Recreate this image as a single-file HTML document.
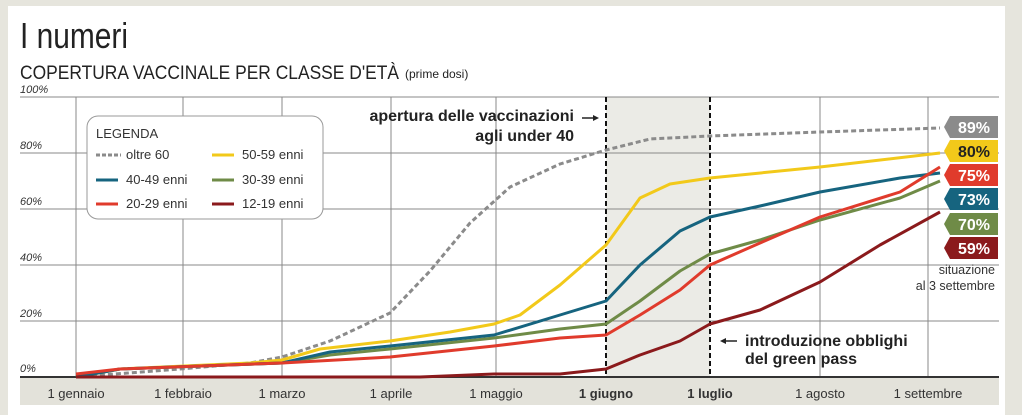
<!DOCTYPE html>
<html><head><meta charset="utf-8"><style>
html,body{margin:0;padding:0;width:1022px;height:415px;overflow:hidden;background:#e6e5dd}
svg{display:block}
text{font-family:"Liberation Sans",sans-serif}
</style></head><body>
<svg width="1022" height="415" viewBox="0 0 1022 415">
<rect x="0" y="0" width="1022" height="415" fill="#e6e5dd"/>
<rect x="8" y="6" width="997" height="409" fill="#fff"/>
<text x="20" y="48" font-size="36" fill="#222" textLength="108" lengthAdjust="spacingAndGlyphs">I numeri</text>
<text x="20" y="79" font-size="19" fill="#222" textLength="379" lengthAdjust="spacingAndGlyphs">COPERTURA VACCINALE PER CLASSE D'ETÀ</text>
<text x="405" y="78" font-size="12" fill="#222">(prime dosi)</text>
<!-- shaded region -->
<rect x="606" y="97" width="104" height="280" fill="#ebebe6"/>
<!-- grid -->
<g stroke="#888" stroke-width="1">
<line x1="20" y1="97" x2="999" y2="97"/>
<line x1="20" y1="153" x2="999" y2="153"/>
<line x1="20" y1="209" x2="999" y2="209"/>
<line x1="20" y1="265" x2="999" y2="265"/>
<line x1="20" y1="321" x2="999" y2="321"/>
<line x1="76" y1="97" x2="76" y2="377"/>
<line x1="183" y1="97" x2="183" y2="377"/>
<line x1="282" y1="97" x2="282" y2="377"/>
<line x1="391" y1="97" x2="391" y2="377"/>
<line x1="496" y1="97" x2="496" y2="377"/>
<line x1="820" y1="97" x2="820" y2="377"/>
<line x1="928" y1="97" x2="928" y2="377"/>
</g>
<g font-size="11" font-style="italic" fill="#333">
<text x="20" y="93">100%</text>
<text x="20" y="149">80%</text>
<text x="20" y="205">60%</text>
<text x="20" y="261">40%</text>
<text x="20" y="317">20%</text>
<text x="20" y="372">0%</text>
</g>
<!-- axis band -->
<rect x="20" y="377" width="979" height="28" fill="#e3e2da"/>
<line x1="20" y1="377" x2="999" y2="377" stroke="#333" stroke-width="2"/>
<g font-size="13" fill="#333" text-anchor="middle">
<text x="76" y="398">1 gennaio</text>
<text x="183" y="398">1 febbraio</text>
<text x="282" y="398">1 marzo</text>
<text x="391" y="398">1 aprile</text>
<text x="496" y="398">1 maggio</text>
<text x="606" y="398" font-weight="bold">1 giugno</text>
<text x="710" y="398" font-weight="bold">1 luglio</text>
<text x="820" y="398">1 agosto</text>
<text x="928" y="398">1 settembre</text>
</g>
<!-- dashed verticals -->
<g stroke="#111" stroke-width="2" stroke-dasharray="5,3">
<line x1="606" y1="97" x2="606" y2="377"/>
<line x1="710" y1="97" x2="710" y2="377"/>
</g>
<!-- series -->
<g fill="none" stroke-width="3" stroke-linejoin="round">
<polyline stroke="#8b8b8b" stroke-dasharray="5,3" points="76,377 180,369 250,363 282,357 330,341 390,313 430,271 470,223 510,187 560,164 606,150 650,139 710,136 820,132 940,128"/>
<polyline stroke="#f2c91a" points="76,377 120,369 250,363 282,360 320,349 390,341 450,332 494,324 520,315 560,285 606,245 640,198 670,184 710,178 820,167 940,153"/>
<polyline stroke="#6f8b47" points="76,377 120,369 282,363 330,355 390,349 494,338 560,329 606,324 640,301 680,271 710,254 760,240 820,220 900,198 940,181"/>
<polyline stroke="#16647f" points="76,377 120,369 282,363 330,352 390,346 494,335 560,315 606,301 640,265 680,231 710,217 760,206 820,192 900,178 940,173"/>
<polyline stroke="#e03b2c" points="76,374 120,369 282,363 390,357 494,346 560,338 606,335 640,315 680,290 710,265 760,243 820,217 900,192 940,167"/>
<polyline stroke="#8b1a1c" points="76,377 420,377 494,374 560,374 606,369 640,355 680,341 710,324 760,310 820,282 880,245 940,212"/>
</g>
<!-- legend -->
<rect x="87" y="116" width="236" height="103" rx="11" fill="#fff" stroke="#999" stroke-width="1"/>
<g font-size="13" fill="#333">
<text x="96" y="138">LEGENDA</text>
<text x="126" y="159">oltre 60</text>
<text x="126" y="184">40-49 enni</text>
<text x="126" y="208">20-29 enni</text>
<text x="242" y="159">50-59 enni</text>
<text x="242" y="184">30-39 enni</text>
<text x="242" y="208">12-19 enni</text>
</g>
<g stroke-width="3">
<line x1="96" y1="155" x2="121" y2="155" stroke="#8b8b8b" stroke-dasharray="4,2"/>
<line x1="96" y1="180" x2="118" y2="180" stroke="#16647f"/>
<line x1="96" y1="204" x2="118" y2="204" stroke="#e03b2c"/>
<line x1="212" y1="155" x2="234" y2="155" stroke="#f2c91a"/>
<line x1="212" y1="180" x2="234" y2="180" stroke="#6f8b47"/>
<line x1="212" y1="204" x2="234" y2="204" stroke="#8b1a1c"/>
</g>
<!-- annotations -->
<g font-size="16" font-weight="bold" fill="#222" text-anchor="end">
<text x="574" y="121">apertura delle vaccinazioni</text>
<text x="574" y="141">agli under 40</text>
</g>
<line x1="582" y1="118" x2="596" y2="118" stroke="#222" stroke-width="1.5"/>
<polygon points="599,118 593,115 593,121" fill="#222"/>
<g font-size="16" font-weight="bold" fill="#222">
<text x="745" y="346">introduzione obblighi</text>
<text x="745" y="364">del green pass</text>
</g>
<line x1="723" y1="341" x2="737" y2="341" stroke="#222" stroke-width="1.5"/>
<polygon points="720,341 726,338 726,344" fill="#222"/>
<!-- tags -->
<g font-size="16" font-weight="bold" text-anchor="middle">
<polygon points="944,127 950,116 998,116 998,138 950,138" fill="#8b8b8b"/><text x="974" y="133" fill="#fff">89%</text>
<polygon points="944,151 950,140 998,140 998,162 950,162" fill="#f2c91a"/><text x="974" y="157" fill="#222">80%</text>
<polygon points="944,175 950,164 998,164 998,186 950,186" fill="#e03b2c"/><text x="974" y="181" fill="#fff">75%</text>
<polygon points="944,199 950,188 998,188 998,210 950,210" fill="#16647f"/><text x="974" y="205" fill="#fff">73%</text>
<polygon points="944,224 950,213 998,213 998,235 950,235" fill="#6f8b47"/><text x="974" y="230" fill="#fff">70%</text>
<polygon points="944,248 950,237 998,237 998,259 950,259" fill="#8b1a1c"/><text x="974" y="254" fill="#fff">59%</text>
</g>
<g font-size="12.5" fill="#333" text-anchor="end">
<text x="995" y="274">situazione</text>
<text x="995" y="290">al 3 settembre</text>
</g>
</svg>
</body></html>
